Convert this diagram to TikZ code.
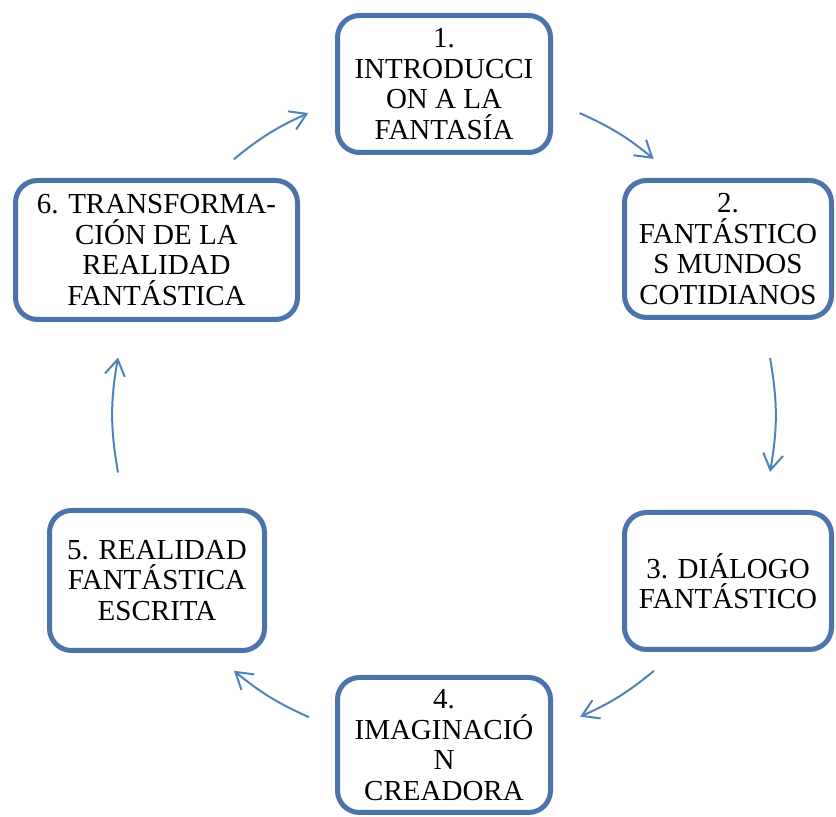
\documentclass[tikz,border=0pt]{standalone}
\usepackage{fontspec}
\setmainfont{Liberation Serif}
\usetikzlibrary{arrows.meta,calc}
\definecolor{boxblue}{HTML}{4A74AA}
\definecolor{arrblue}{HTML}{4F81BD}
\begin{document}
\begin{tikzpicture}[x=1pt,y=1pt,
  stagebox/.style={draw=boxblue,line width=5pt,rounded corners=22pt,fill=white,
    align=center,inner sep=0pt,font=\fontsize{29}{30.5}\selectfont},
  cyclearrow/.style={draw=arrblue,line width=2pt,
    -{Straight Barb[length=16pt,width=20pt,line width=2pt]}}]
\useasboundingbox (0,0) rectangle (836,817);
\coordinate (c) at (444,402);
\node[stagebox,minimum width=213pt,minimum height=137pt] (b1) at (444,733) {1.\\INTRODUCCI\\ON A LA\\FANTASÍA};
\node[stagebox,minimum width=207pt,minimum height=137pt] (b2) at (728,568) {2.\\FANTÁSTICO\\S MUNDOS\\COTIDIANOS};
\node[stagebox,minimum width=207pt,minimum height=137pt] (b3) at (728,236) {3. DIÁLOGO\\FANTÁSTICO};
\node[stagebox,minimum width=213pt,minimum height=135pt] (b4) at (444,72) {4.\\IMAGINACIÓ\\N\\CREADORA};
\node[stagebox,minimum width=215pt,minimum height=140pt] (b5) at (157,236.5) {5. REALIDAD\\FANTÁSTICA\\ESCRITA};
\node[stagebox,minimum width=282pt,minimum height=139pt] (b6) at (156.5,567) {6. TRANSFORMA-\\CIÓN DE LA\\REALIDAD\\FANTÁSTICA};
% arrow end points on the cycle circle
\coordinate (a1s) at ($(c)+(65.8:331)$);
\coordinate (a1e) at ($(c)+(50.7:331)$);
\coordinate (a2s) at ($(c)+(9.9:331)$);
\coordinate (a2e) at ($(c)+(-9.9:331)$);
\coordinate (a3s) at ($(c)+(-50.6:331)$);
\coordinate (a3e) at ($(c)+(-65.7:331)$);
\coordinate (a4s) at ($(c)+(245.9:331)$);
\coordinate (a4e) at ($(c)+(230.6:331)$);
\coordinate (a5s) at ($(c)+(190:331)$);
\coordinate (a5e) at ($(c)+(170:331)$);
\coordinate (a6s) at ($(c)+(129.4:331)$);
\coordinate (a6e) at ($(c)+(114.2:331)$);
\draw[cyclearrow] (a1s) to[bend left=7.6] (a1e);
\draw[cyclearrow] (a2s) to[bend left=9.9] (a2e);
\draw[cyclearrow] (a3s) to[bend left=7.6] (a3e);
\draw[cyclearrow] (a4s) to[bend left=7.6] (a4e);
\draw[cyclearrow] (a5s) to[bend left=10] (a5e);
\draw[cyclearrow] (a6s) to[bend left=7.6] (a6e);
\end{tikzpicture}
\end{document}
